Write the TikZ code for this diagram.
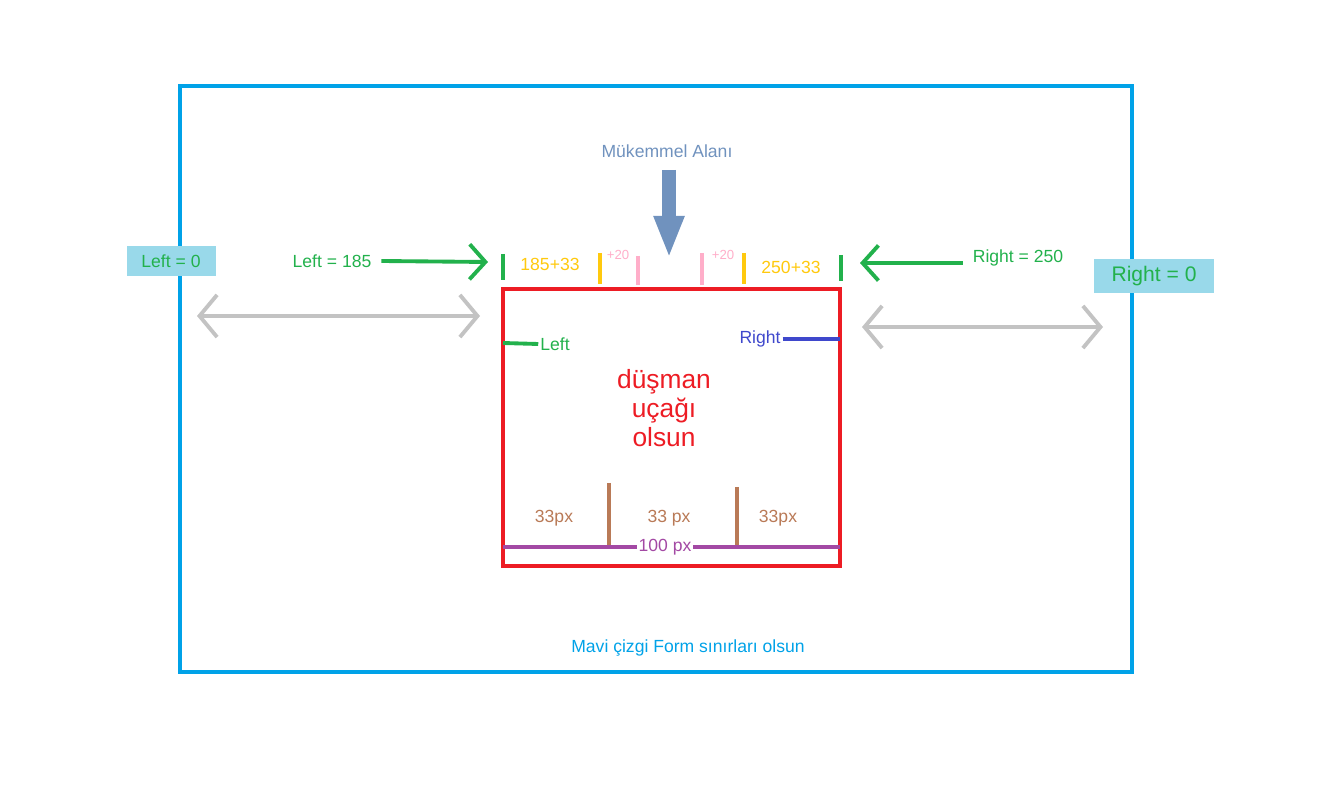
\documentclass[tikz,border=0pt]{standalone}
\usepackage{fontspec}
\setmainfont{Liberation Sans}
\usetikzlibrary{arrows.meta, positioning}
\definecolor{formblue}{RGB}{0, 162, 232}
\definecolor{enemyred}{RGB}{237, 28, 36}
\definecolor{markgreen}{RGB}{34, 177, 76}
\definecolor{markyellow}{RGB}{255, 201, 14}
\definecolor{markpink}{RGB}{255, 174, 201}
\definecolor{markbrown}{RGB}{185, 122, 87}
\definecolor{markpurple}{RGB}{163, 73, 164}
\definecolor{markblue}{RGB}{63, 72, 204}
\definecolor{steel}{RGB}{112, 146, 190}
\definecolor{boxfill}{RGB}{153, 217, 234}
\definecolor{spangray}{RGB}{195, 195, 195}

\begin{document}
\begin{tikzpicture}[x=0.02cm, y=-0.02cm,
            txt/.style={inner sep=1pt, font=\fontsize{10}{12}\selectfont},
            edge/.style={line width=4.5pt, line cap=butt},
            tick/.style={line width=2.2pt},
            push/.style={-{Straight Barb[length=9pt, width=20pt, line width=2.2pt]}, line width=2.2pt, markgreen},
            span/.style={{Straight Barb[length=10pt, width=24pt, line width=2.2pt]}-{Straight Barb[length=10pt, width=24pt, line width=2.2pt]}, line width=2.2pt, spangray}
        ]
            \useasboundingbox (0,0) rectangle (1321,786);
            % Form and enemy plane
            \draw[formblue, line width=2.4pt] (180,86) rectangle (1132,672);
            \draw[enemyred, line width=2.4pt] (503,289) rectangle (840,566);
            \node[txt, formblue] (form) at (688,648) {Mavi çizgi Form sınırları olsun};
            \node[enemyred, align=center, font=\fontsize{15}{16.5}\selectfont] (enemy) at (664,408) {düşman\\uçağı\\olsun};

            % Perfect area
            \node[txt, steel] (perfect) at (667,151) {Mükemmel Alanı};
            \coordinate (pTop) at (669,170);
            \coordinate (pTip) at (669,258);
            \draw[steel, line width=8pt, -{Triangle[length=24pt, width=16pt]}] (pTop) -- (pTip);

            % Screen edges
            \node[txt, markgreen, fill=boxfill, minimum width=89*0.02cm, minimum height=30*0.02cm] (left0) at (171,261) {Left = 0};
            \node[txt, markgreen, fill=boxfill, minimum width=120*0.02cm, minimum height=34*0.02cm, font=\fontsize{12}{14}\selectfont] (right0) at (1154,276) {Right = 0};
            \coordinate (sL1) at (197,316); \coordinate (sL2) at (480,316);
            \coordinate (sR1) at (862,327); \coordinate (sR2) at (1103,327);
            \draw[span] (sL1) -- (sL2);
            \draw[span] (sR1) -- (sR2);

            % Left / Right values
            \node[txt, markgreen] (left185) at (332,261) {Left = 185};
            \node[txt, markgreen] (right250) at (1018,258) {Right = 250};
            \coordinate (lTip) at (488,262);
            \coordinate (rTip) at (860,263);
            \draw[push] (left185.east) ++(8,0) coordinate (lTail) (lTail) -- (lTip);
            \draw[push] (right250.west) ++(-8,5) coordinate (rTail) (rTail) -- (rTip);

            % Ticks above the plane
            \foreach \x/\a/\b/\c in {503/254/280/markgreen, 600/253/284/markyellow, 638/256/285/markpink,
                                     702/253/285/markpink, 744/253/284/markyellow, 841/255/281/markgreen}
                \draw[tick, \c] (\x,\a) -- (\x,\b);
            \node[txt, markyellow] (lOff) at (550,264) {185+33};
            \node[txt, markyellow] (rOff) at (791,267) {250+33};
            \node[inner sep=1pt, markpink, font=\fontsize{7.5}{9}\selectfont] (lPlus) at (618,255) {+20};
            \node[inner sep=1pt, markpink, font=\fontsize{7.5}{9}\selectfont] (rPlus) at (723,255) {+20};

            % Inner Left / Right
            \node[txt, markgreen] (inLeft) at (555,344) {Left};
            \node[txt, markblue] (inRight) at (760,339) {Right};
            \coordinate (eL) at (503,343);
            \coordinate (eR) at (840,339);
            \draw[tick, markgreen] (eL) -- (inLeft.west);
            \draw[tick, markblue] (inRight.east) -- (eR);

            % Thirds
            \draw[tick, markbrown] (609,483) -- (609,547);
            \draw[tick, markbrown] (737,487) -- (737,547);
            \node[txt, markbrown] (t1) at (554,518) {33px};
            \node[txt, markbrown] (t2) at (669,518) {33 px};
            \node[txt, markbrown] (t3) at (778,518) {33px};
            \node[txt, markpurple] (width) at (665,547) {100 px};
            \coordinate (wL) at (503,547);
            \coordinate (wR) at (840,547);
            \draw[tick, markpurple] (wL) -- (width.west);
            \draw[tick, markpurple] (width.east) -- (wR);
        \end{tikzpicture}
\end{document}
